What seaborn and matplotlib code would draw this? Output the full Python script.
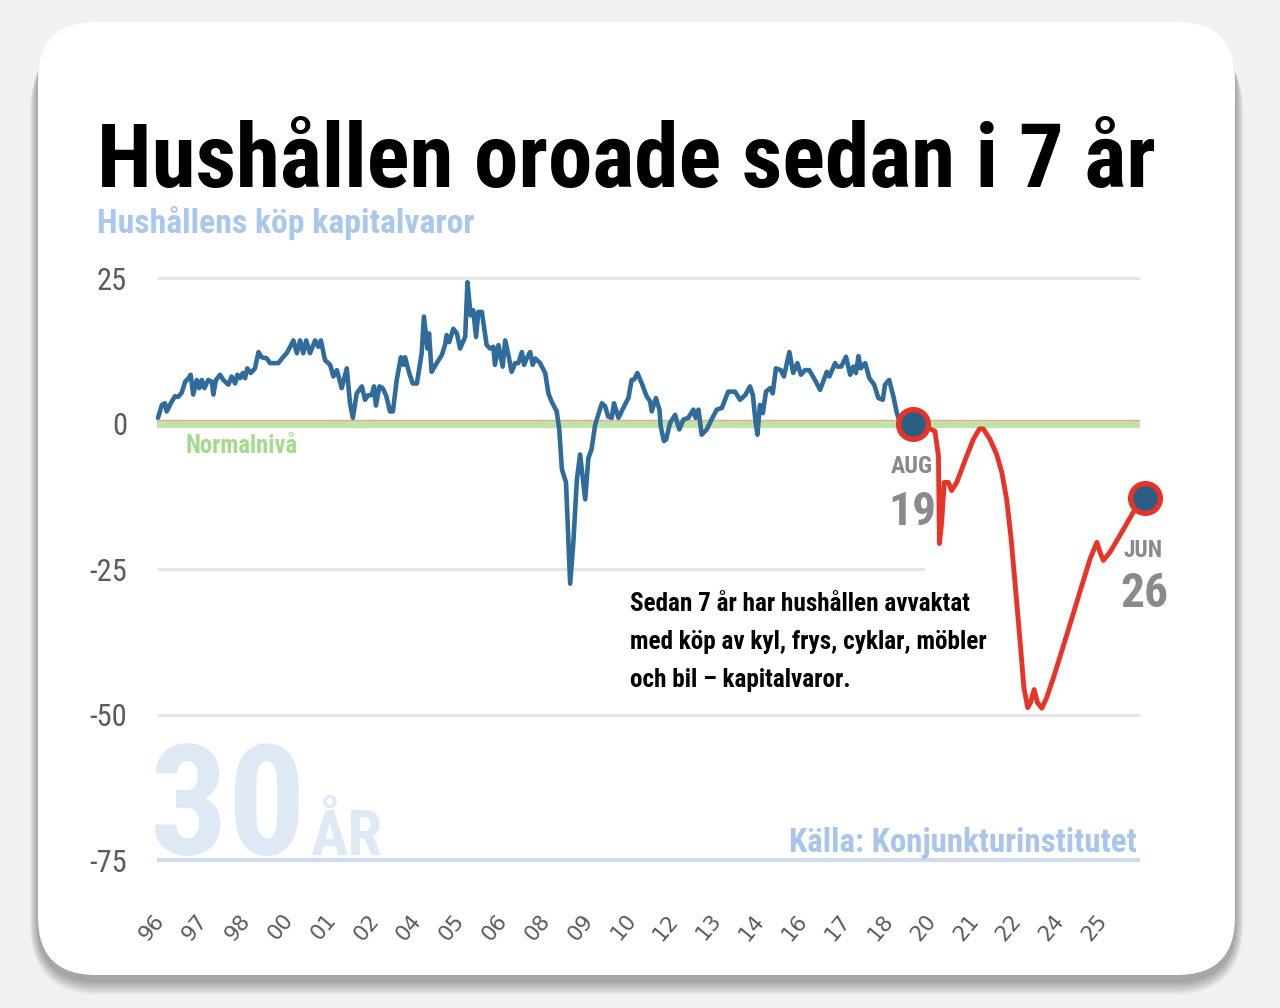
import matplotlib
matplotlib.use('Agg')
import matplotlib.pyplot as plt
from matplotlib import font_manager as fm
from matplotlib.patches import FancyBboxPatch
import numpy as np
import pandas as pd
import seaborn as sns

# ---------------- data ----------------
blue_year = [
    1996.03, 1996.15, 1996.25, 1996.30, 1996.46, 1996.56, 1996.66, 1996.77, 1996.88, 1996.98,
    1997.05, 1997.13, 1997.24, 1997.32, 1997.40, 1997.48, 1997.60, 1997.71, 1997.76, 1997.84, 1997.97,
    1998.07, 1998.23, 1998.33, 1998.44, 1998.51, 1998.59, 1998.68, 1998.75, 1998.82, 1998.93,
    1999.06, 1999.17, 1999.27, 1999.43, 1999.53, 1999.79, 1999.95,
    2000.05, 2000.16, 2000.26, 2000.37, 2000.47, 2000.57, 2000.66, 2000.78, 2000.94,
    2001.04, 2001.12, 2001.25, 2001.41, 2001.51, 2001.62, 2001.77, 2001.93,
    2002.03, 2002.12, 2002.24, 2002.40, 2002.50, 2002.60, 2002.71, 2002.78, 2002.84, 2002.95,
    2003.05, 2003.16, 2003.28, 2003.37, 2003.49, 2003.62, 2003.70, 2003.75, 2003.88, 2003.99,
    2004.12, 2004.22, 2004.27, 2004.34, 2004.45, 2004.50, 2004.58, 2004.74, 2004.90,
    2005.00, 2005.05, 2005.13, 2005.26, 2005.37, 2005.47, 2005.63, 2005.70, 2005.80, 2005.88, 2005.97,
    2006.04, 2006.15, 2006.30, 2006.41, 2006.51, 2006.56, 2006.67, 2006.80, 2006.88, 2006.98,
    2007.08, 2007.19, 2007.29, 2007.40, 2007.47, 2007.55, 2007.66, 2007.74, 2007.82, 2007.97,
    2008.13, 2008.23, 2008.33, 2008.49, 2008.57, 2008.65, 2008.78, 2008.91,
    2009.01, 2009.12, 2009.22, 2009.38, 2009.48, 2009.58, 2009.69, 2009.90,
    2010.00, 2010.10, 2010.21, 2010.28, 2010.42, 2010.57, 2010.73, 2010.83, 2010.91,
    2011.01, 2011.15, 2011.30, 2011.41, 2011.46, 2011.59, 2011.70, 2011.74, 2011.84, 2011.91,
    2012.03, 2012.19, 2012.32, 2012.45, 2012.60, 2012.76, 2012.83, 2012.92,
    2013.02, 2013.18, 2013.30, 2013.49, 2013.65, 2013.85,
    2014.06, 2014.22, 2014.38, 2014.53, 2014.62, 2014.69, 2014.76, 2014.84, 2014.93,
    2015.03, 2015.16, 2015.24, 2015.34, 2015.49, 2015.59, 2015.76, 2015.88,
    2016.01, 2016.12, 2016.25, 2016.38, 2016.53, 2016.72, 2016.93,
    2017.01, 2017.19, 2017.26, 2017.38, 2017.53, 2017.66, 2017.76, 2017.84, 2017.92, 2017.99,
    2018.13, 2018.26, 2018.41, 2018.54, 2018.68, 2018.75, 2018.88,
    2019.01, 2019.12, 2019.22, 2019.63,
]
blue_val = [
    1.0, 3.2, 3.5, 2.1, 3.8, 4.7, 4.6, 5.3, 7.2, 7.8,
    8.4, 5.0, 7.5, 6.1, 7.5, 6.1, 7.5, 7.2, 5.0, 7.5, 8.4,
    7.5, 6.7, 8.1, 6.9, 8.4, 7.8, 8.7, 7.8, 9.5, 8.7,
    9.5, 12.3, 11.4, 11.2, 10.4, 10.4, 11.5,
    12.1, 13.2, 14.3, 12.1, 14.3, 12.1, 14.3, 12.1, 14.3,
    13.2, 14.3, 10.9, 10.1, 8.1, 9.2, 6.1, 9.5,
    3.5, 1.0, 5.2, 6.4, 4.1, 4.9, 4.9, 6.4, 3.1, 6.4,
    6.1, 4.8, 2.1, 2.1, 7.5, 11.4, 10.1, 11.4, 8.7, 6.9,
    6.9, 10.4, 12.1, 18.4, 12.9, 15.5, 8.9, 10.4, 11.8,
    13.5, 15.2, 14.0, 16.3, 15.5, 12.9, 14.9, 24.3, 18.6, 19.5, 14.9,
    19.2, 19.2, 13.5, 12.9, 13.2, 10.1, 13.5, 9.8, 14.3, 11.8,
    8.9, 10.4, 10.4, 12.3, 10.1, 11.2, 12.3, 10.1, 11.2, 10.4,
    8.7, 5.2, 3.8, 2.1, -1.0, -7.8, -10.1, -27.5,
    -20.4, -9.6, -5.3, -13.0, -5.9, -4.4, -0.2, 3.5,
    3.0, 1.2, 1.0, 3.5, 1.0, 2.7, 4.4, 7.5, 7.6,
    8.7, 6.9, 4.7, 3.8, 2.1, 4.4, 2.4, -0.5, -3.0, -2.7,
    0.1, 1.5, -1.0, 0.7, 1.0, 2.4, 1.0, 2.4,
    -1.9, -1.0, 0.4, 2.4, 2.7, 5.5,
    5.5, 4.1, 4.9, 6.4, 4.9, 1.0, -1.9, 3.2, 1.8,
    5.5, 6.1, 5.2, 9.5, 9.2, 8.1, 12.3, 8.7,
    10.4, 8.4, 9.2, 9.2, 7.8, 5.8, 8.9,
    8.1, 10.4, 9.8, 9.8, 11.5, 8.4, 9.8, 8.7, 11.6, 9.5,
    10.4, 7.8, 6.7, 4.4, 4.1, 6.7, 7.5,
    4.7, 1.8, 0.1, 0.0,
]
red_year = [
    2019.63, 2020.16, 2020.31, 2020.42, 2020.45, 2020.52, 2020.60, 2020.73, 2020.83, 2020.99,
    2021.30, 2021.51, 2021.70, 2021.82, 2022.03, 2022.24, 2022.40, 2022.55, 2022.69, 2022.81,
    2022.97, 2023.09, 2023.21, 2023.30, 2023.41, 2023.51, 2023.65, 2023.80, 2024.01, 2024.43,
    2024.84, 2025.16, 2025.37, 2025.47, 2025.57, 2025.78, 2026.09, 2026.51, 2026.88,
]
red_val = [
    0.0, -0.9, -1.3, -5.6, -20.6, -16.9, -10.1, -10.1, -11.5, -10.1,
    -5.6, -2.7, -0.9, -0.9, -2.7, -5.3, -8.4, -13.0, -19.8, -27.2,
    -37.4, -45.4, -48.8, -47.9, -45.7, -47.9, -48.9, -47.1, -43.7, -36.3,
    -28.9, -23.2, -20.4, -22.1, -23.5, -22.1, -19.2, -15.2, -12.7,
]
y_ticks = [25, 0, -25, -50, -75]
y_tick_labels = ['25', '0', '-25', '-50', '-75']
x_tick_labels = ['96', '97', '98', '00', '01', '02', '04', '05', '06', '08', '09', '10',
                 '12', '13', '14', '16', '17', '18', '20', '21', '22', '24', '25']
title = 'Hushållen oroade sedan i 7 år'
subtitle = 'Hushållens köp kapitalvaror'
normal_label = 'Normalnivå'
note_lines = ['Sedan 7 år har hushållen avvaktat',
              'med köp av kyl, frys, cyklar, möbler',
              'och bil – kapitalvaror.']
start_label = ('AUG', '19')
end_label = ('JUN', '26')
source = 'Källa: Konjunkturinstitutet'
watermark = ('30', 'ÅR')

# ---------------- style / fonts ----------------
sns.set_theme(style='white')
entries = fm.fontManager.ttflist
names = {f.name for f in entries}
COND, STRETCH = None, 'normal'
for cand in ['Noto Sans ExtraCondensed', 'Roboto Condensed', 'Noto Sans Condensed',
             'Liberation Sans Narrow', 'Noto Sans SemiCondensed']:
    if cand in names:
        COND = cand
        break
if COND is None:
    if any(f.name == 'DejaVu Sans' and f.stretch == 'condensed' for f in entries):
        COND, STRETCH = 'DejaVu Sans', 'condensed'
    elif 'Roboto' in names:
        COND = 'Roboto'
    else:
        COND = 'DejaVu Sans'
plt.rcParams['font.family'] = [COND, 'DejaVu Sans']

W, H = 1280, 1008
fig = plt.figure(figsize=(W / 100, H / 100), dpi=100)
fig.patch.set_facecolor('#f1f1f1')
renderer = fig.canvas.get_renderer()

# card with soft shadow (pixel coordinates), shadow mostly below the card
cx0, cy0, cw, ch, rad = 38, H - 975, 1197, 953, 58
for g in range(1, 15):
    fig.add_artist(FancyBboxPatch((cx0 - g * 0.6, cy0 - 6 - g), cw + 1.2 * g, ch,
                                  boxstyle=f'round,pad=0,rounding_size={rad + g}',
                                  fc='black', ec='none', alpha=0.022,
                                  transform=None, zorder=-20))
fig.add_artist(FancyBboxPatch((cx0, cy0), cw, ch,
                              boxstyle=f'round,pad=0,rounding_size={rad}',
                              fc='white', ec='none', transform=None, zorder=-10))


def ftext(x, y, s, width=None, size=40, ha='left', **kw):
    kw.setdefault('fontstretch', STRETCH)
    t = fig.text(x / W, 1 - y / H, s, ha=ha, va='baseline', fontsize=size, **kw)
    if width is not None:
        w = t.get_window_extent(renderer).width
        t.set_fontsize(t.get_fontsize() * width / w)
    return t


# watermark (behind the plot)
ftext(150, 855, watermark[0], width=156, color='#dfe8f5', fontweight='bold', zorder=-5)
ftext(310, 855, watermark[1], width=72, color='#dfe8f5', fontweight='bold', zorder=-5)

# titles
ftext(97, 187, title, width=1058, color='black', fontweight='bold')
ftext(97, 233, subtitle, width=376, color='#a9c8eb', fontweight='bold')

# ---------------- axes ----------------
ax = fig.add_axes([150 / W, 1 - 870 / H, 1000 / W, 600 / H])
ax.patch.set_alpha(0)
ax.set_xlim(1995.78, 2027.03)
ax.set_ylim(-76.7, 26.4)
sns.despine(ax=ax, left=True, bottom=True)

x0, x1 = 1996.0, 2026.72
ax.hlines(25, x0, x1, color='#e6e6e6', lw=2.2, zorder=1)
ax.hlines(-25, x0, 2020.0, color='#e6e6e6', lw=2.2, zorder=1)
ax.hlines(-50, x0, x1, color='#e6e6e6', lw=2.2, zorder=1)
ax.hlines(-75, x0, x1, color='#cfdaec', lw=3.0, zorder=1)
ax.hlines(0, x0, x1, color='#bfe3a9', lw=6.0, zorder=2)
ax.hlines(0.7, x0, x1, color='#f2a690', lw=0.9, zorder=2.5)

df_blue = pd.DataFrame({'year': blue_year, 'value': blue_val})
df_red = pd.DataFrame({'year': red_year, 'value': red_val})
sns.lineplot(data=df_blue, x='year', y='value', ax=ax, color='#2f6c9b', lw=3.3,
             estimator=None, sort=False, zorder=5, solid_joinstyle='round')
sns.lineplot(data=df_red, x='year', y='value', ax=ax, color='#e83428', lw=3.5,
             estimator=None, sort=False, zorder=5, solid_joinstyle='round',
             solid_capstyle='round')
df_pts = pd.DataFrame({'year': [blue_year[-1], red_year[-1]],
                       'value': [blue_val[-1], red_val[-1]]})
sns.scatterplot(data=df_pts, x='year', y='value', ax=ax, s=460, color='#2c5d83',
                edgecolor='#e83428', linewidth=3.8, zorder=7, clip_on=False)

ax.set_xlabel('')
ax.set_ylabel('')
ax.set_yticks(y_ticks, y_tick_labels)
ax.tick_params(axis='y', length=0, pad=16.5, labelcolor='#5b5b5b', labelsize=22)
for lab in ax.get_yticklabels():
    lab.set_fontstretch(STRETCH)
ax.set_xticks(np.linspace(1995.85, 2025.3, len(x_tick_labels)), x_tick_labels)
ax.tick_params(axis='x', length=0, pad=29, labelcolor='#5a5a5a', labelsize=15.5,
               labelrotation=50)
for lab in ax.get_xticklabels():
    lab.set_fontfamily('DejaVu Sans')
ax.grid(False)

# ---------------- annotations ----------------
ftext(186, 453, normal_label, width=112, color='#a6da8b', fontweight='bold')
ftext(912, 473, start_label[0], width=42, ha='center', color='#8a8a8a', fontweight='bold')
ftext(912, 525, start_label[1], width=48, ha='center', color='#8a8a8a', fontweight='bold')
ftext(1143, 557, end_label[0], width=39, ha='center', color='#8a8a8a', fontweight='bold')
ftext(1144, 607, end_label[1], width=48, ha='center', color='#8a8a8a', fontweight='bold')

t2 = ftext(630, 649, note_lines[1], width=357, color='black', fontweight='bold')
ns = t2.get_fontsize()
ftext(630, 611, note_lines[0], size=ns, color='black', fontweight='bold')
ftext(630, 687, note_lines[2], size=ns, color='black', fontweight='bold')

ftext(1137, 852, source, width=347, ha='right', color='#a9c6ea', fontweight='bold')

fig.savefig('out.png', dpi=100, facecolor=fig.get_facecolor())
